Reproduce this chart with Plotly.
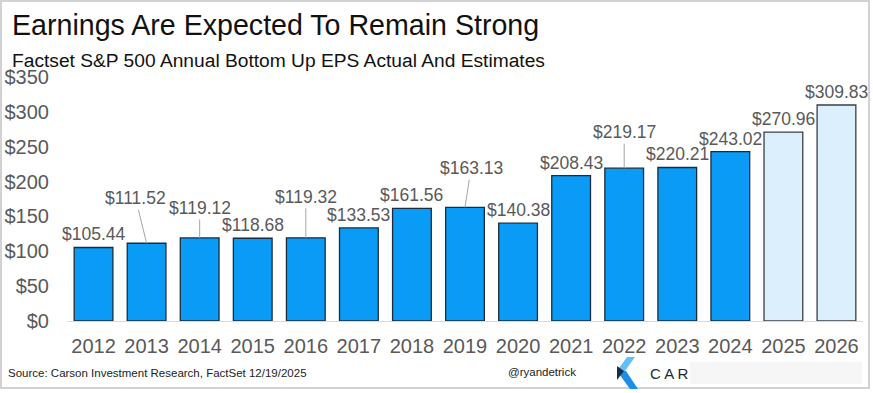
import plotly.graph_objects as go

# ---- data ----
years = ["2012", "2013", "2014", "2015", "2016", "2017", "2018", "2019",
         "2020", "2021", "2022", "2023", "2024", "2025", "2026"]
eps = [105.44, 111.52, 119.12, 118.68, 119.32, 133.53, 161.56, 163.13,
       140.38, 208.43, 219.17, 220.21, 243.02, 270.96, 309.83]
is_estimate = [False] * 13 + [True, True]

# label placement (pixels): extra lift above the standard offset, horizontal shift
label_lift = [0, 32, 17, 0, 28, 0, 0, 26, 0, 0, 23, 0, 0, 0, 0]
label_dx = [0, -11, 0, 0, 0, 0, 0, 6, 0, 0, 0, 0, 0, 0, 0]

title = "Earnings Are Expected To Remain Strong"
subtitle = "Factset S&P 500 Annual Bottom Up EPS Actual And Estimates"
source = "Source: Carson Investment Research, FactSet 12/19/2025"
handle = "@ryandetrick"

# ---- layout geometry ----
W, H = 873, 393
ML, MR, MT, MB = 67, 10, 77, 72
PW, PH = W - ML - MR, H - MT - MB
FONT = "Liberation Sans, Arial, Helvetica, sans-serif"
GRAY = "#595959"


def px(x):
    return (x - ML) / PW


def py(y):
    return (H - MB - y) / PH


actual_color = "#0A9BF6"
est_color = "#DCEFFC"
colors = [est_color if e else actual_color for e in is_estimate]
outline = ["#3A3F44" if e else "#1B2D3D" for e in is_estimate]

fig = go.Figure(go.Bar(
    x=years, y=eps,
    marker=dict(color=colors, line=dict(color=outline, width=1.3)),
    hoverinfo="x+y",
))

annotations = []
for i, (v, lift, dx) in enumerate(zip(eps, label_lift, label_dx)):
    txt = f"${v:.2f}"
    if lift:
        annotations.append(dict(
            x=i, y=v, xref="x", yref="y", text=txt, showarrow=True,
            arrowhead=0, arrowwidth=1, arrowcolor="#A6A6A6",
            ax=dx, ay=-(13 + lift), standoff=0,
            font=dict(family=FONT, size=17.5, color=GRAY)))
    else:
        annotations.append(dict(
            x=i, y=v, xref="x", yref="y", text=txt, showarrow=False,
            yanchor="middle", yshift=13, xshift=dx,
            font=dict(family=FONT, size=17.5, color=GRAY)))

annotations += [
    dict(x=px(10), y=py(24.5), xref="paper", yref="paper", text=title,
         showarrow=False, xanchor="left", yanchor="middle",
         font=dict(family=FONT, size=28.6, color="#111111")),
    dict(x=px(10), y=py(61), xref="paper", yref="paper", text=subtitle,
         showarrow=False, xanchor="left", yanchor="middle",
         font=dict(family=FONT, size=19.2, color="#111111")),
    dict(x=px(6), y=py(372.5), xref="paper", yref="paper", text=source,
         showarrow=False, xanchor="left", yanchor="middle",
         font=dict(family=FONT, size=11.5, color="#222222")),
    dict(x=px(506), y=py(372), xref="paper", yref="paper", text=handle,
         showarrow=False, xanchor="left", yanchor="middle",
         font=dict(family=FONT, size=11.5, color="#222222")),
    dict(x=px(648), y=py(373), xref="paper", yref="paper",
         text="C A R", showarrow=False, xanchor="left", yanchor="middle",
         font=dict(family=FONT, size=15, color="#1B2A3A")),
]


def path(points):
    s = "M " + " L ".join(f"{px(a):.5f},{py(b):.5f}" for a, b in points) + " Z"
    return s


shapes = [
    # outer frame
    dict(type="rect", xref="paper", yref="paper",
         x0=px(1), x1=px(869), y0=py(388), y1=py(1),
         line=dict(color="#D2D2D2", width=2), fillcolor="rgba(0,0,0,0)",
         layer="below"),
    # logo chevron
    dict(type="path", xref="paper", yref="paper",
         path=path([(627, 357), (635, 357), (625, 371), (617, 371)]),
         fillcolor="#5EC2F7", line=dict(width=0)),
    dict(type="path", xref="paper", yref="paper",
         path=path([(617, 371), (626, 371), (638, 389), (630, 389)]),
         fillcolor="#1A8FE3", line=dict(width=0)),
    dict(type="path", xref="paper", yref="paper",
         path=path([(617, 366), (624, 371), (617, 380)]),
         fillcolor="#15304F", line=dict(width=0)),
    # blurred watermark area
    dict(type="rect", xref="paper", yref="paper",
         x0=px(690), x1=px(862), y0=py(384), y1=py(362),
         fillcolor="rgba(215,215,215,0.22)", line=dict(width=0)),
]

fig.update_layout(
    width=W, height=H,
    margin=dict(l=ML, r=MR, t=MT, b=MB),
    paper_bgcolor="white", plot_bgcolor="white",
    bargap=0.27,
    showlegend=False,
    annotations=annotations,
    shapes=shapes,
    xaxis=dict(type="category", range=[-0.5, len(years) - 0.5],
               showgrid=False, showline=True, automargin=False,
               linecolor="#D9D9D9", linewidth=1, ticks="",
               tickfont=dict(family=FONT, size=20, color=GRAY),
               ticklabelstandoff=7, fixedrange=True),
    yaxis=dict(range=[0, 350], dtick=50, tickprefix="$", showgrid=False,
               zeroline=False, showline=False, ticks="", automargin=False,
               tickfont=dict(family=FONT, size=20, color=GRAY),
               ticklabelstandoff=17, fixedrange=True),
)

fig.write_html(
    "out.html", include_plotlyjs=True,
    config={"displayModeBar": False},
    post_script="document.body.style.margin='0';"
                "document.body.style.overflow='hidden';",
)
